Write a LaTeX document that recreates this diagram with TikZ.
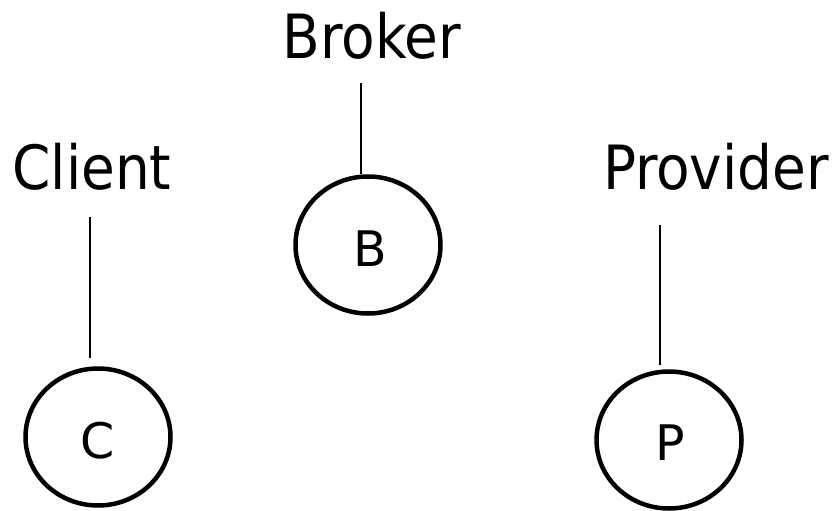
\documentclass[tikz,border=0pt]{standalone}
\usepackage{fontspec}
\usetikzlibrary{shapes.geometric}
\setmainfont{DejaVu Sans Condensed}
\newfontfamily\letterfont{DejaVu Sans}
\begin{document}
\begin{tikzpicture}[x=1pt,y=-1pt,
  rolelabel/.style={anchor=base,inner sep=0pt,font=\fontsize{61}{61}\selectfont},
  party/.style={ellipse,draw,line width=4.5pt,minimum width=145pt,minimum height=137pt,inner sep=0pt},
  letter/.style={inner sep=0pt,font=\letterfont\fontsize{49}{49}\selectfont},
  tie/.style={line width=1.6pt}]
\useasboundingbox (0,0) rectangle (836,511);
\node[rolelabel] (broker) at (372,59) {Broker};
\node[rolelabel] (client) at (92,189) {Client};
\node[rolelabel] (provider) at (716,189) {Provider};
\node[party] (b) at (368,245) {};
\node[party] (c) at (98,437) {};
\node[party] (p) at (669,440) {};
\node[letter] (bl) at (370,249) {B};
\node[letter] (cl) at (98,441) {C};
\node[letter] (pl) at (670,443) {P};
\coordinate (bt) at (361,83);
\coordinate (bb) at (361,174);
\coordinate (ct) at (90,217);
\coordinate (cb) at (90,358);
\coordinate (pt) at (660,225);
\coordinate (pb) at (660,365);
\draw[tie] (bt) -- (bb);
\draw[tie] (ct) -- (cb);
\draw[tie] (pt) -- (pb);
\end{tikzpicture}
\end{document}
